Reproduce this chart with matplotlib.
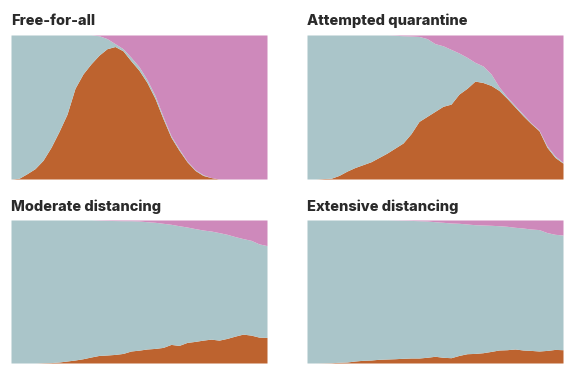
import numpy as np
import matplotlib
matplotlib.use("Agg")
import matplotlib.pyplot as plt

# time steps (simulation frames)
days = np.arange(0, 33)

titles = ["Free-for-all", "Attempted quarantine",
          "Moderate distancing", "Extensive distancing"]

# share of population sick (bottom band)
sick_free = [0, 0.005, 0.037, 0.072, 0.13, 0.22, 0.33, 0.45, 0.63, 0.73, 0.80,
             0.86, 0.905, 0.92, 0.89, 0.82, 0.755, 0.67, 0.56, 0.42, 0.29, 0.20,
             0.12, 0.06, 0.025, 0.01, 0, 0, 0, 0, 0, 0, 0]
rec_free = [0, 0, 0, 0, 0, 0, 0, 0, 0, 0, 0,
            0.005, 0.025, 0.06, 0.095, 0.155, 0.22, 0.31, 0.42, 0.565, 0.70, 0.79,
            0.875, 0.935, 0.97, 0.99, 1, 1, 1, 1, 1, 1, 1]

sick_quar = [0, 0, 0.003, 0.005, 0.025, 0.055, 0.08, 0.10, 0.12, 0.15, 0.18,
             0.215, 0.25, 0.315, 0.40, 0.435, 0.47, 0.505, 0.52, 0.59, 0.63, 0.68,
             0.67, 0.65, 0.615, 0.56, 0.50, 0.44, 0.385, 0.335, 0.22, 0.15, 0.11]
rec_quar = [0, 0, 0, 0, 0, 0, 0, 0, 0, 0, 0,
            0.002, 0.005, 0.007, 0.01, 0.025, 0.06, 0.075, 0.10, 0.125, 0.155, 0.19,
            0.215, 0.27, 0.36, 0.43, 0.49, 0.55, 0.61, 0.66, 0.77, 0.84, 0.885]

sick_mod = [0, 0, 0, 0, 0.002, 0.003, 0.007, 0.014, 0.021, 0.03, 0.042,
            0.053, 0.056, 0.06, 0.067, 0.084, 0.09, 0.098, 0.102, 0.109, 0.13, 0.123,
            0.144, 0.151, 0.16, 0.167, 0.16, 0.172, 0.188, 0.202, 0.195, 0.181, 0.179]
rec_mod = [0, 0, 0, 0, 0, 0, 0, 0, 0, 0, 0,
           0.002, 0.003, 0.004, 0.005, 0.005, 0.007, 0.012, 0.016, 0.023, 0.03, 0.04,
           0.049, 0.06, 0.07, 0.077, 0.088, 0.10, 0.116, 0.13, 0.142, 0.167, 0.179]

sick_ext = [0, 0, 0.001, 0.002, 0.005, 0.007, 0.014, 0.019, 0.021, 0.026, 0.028,
            0.03, 0.033, 0.035, 0.035, 0.04, 0.047, 0.04, 0.037, 0.053, 0.065, 0.067,
            0.072, 0.081, 0.091, 0.093, 0.098, 0.091, 0.088, 0.084, 0.088, 0.095, 0.093]
rec_ext = [0, 0, 0, 0, 0, 0, 0, 0, 0, 0, 0,
           0.001, 0.002, 0.003, 0.005, 0.007, 0.012, 0.016, 0.021, 0.023, 0.028, 0.033,
           0.035, 0.037, 0.04, 0.044, 0.051, 0.056, 0.063, 0.067, 0.088, 0.10, 0.105]

SICK = "#bd632f"
HEALTHY = "#aac5c9"
RECOVERED = "#ce89bb"

W, H = 573, 377
fig = plt.figure(figsize=(W / 100, H / 100), dpi=100)

# panel boxes in pixels: left, top, right, bottom
boxes = [(11, 35, 267, 179), (307, 35, 563, 179),
         (11, 220, 267, 363), (307, 220, 563, 363)]
title_pos = [(11, 25), (307, 25), (11, 211), (307, 211)]
series = [(sick_free, rec_free), (sick_quar, rec_quar),
          (sick_mod, rec_mod), (sick_ext, rec_ext)]

for (l, t, r, b), (tx, ty), title, (sick, rec) in zip(boxes, title_pos, titles, series):
    ax = fig.add_axes([l / W, 1 - b / H, (r - l) / W, (b - t) / H])
    sick = np.array(sick)
    top_healthy = 1 - np.array(rec)
    ax.fill_between(days, 0, sick, color=SICK, lw=0)
    ax.fill_between(days, sick, top_healthy, color=HEALTHY, lw=0)
    ax.fill_between(days, top_healthy, 1, color=RECOVERED, lw=0)
    ax.set_xlim(days[0], days[-1])
    ax.set_ylim(0, 1)
    ax.axis("off")
    fig.text(tx / W, 1 - ty / H, title, fontsize=10.5, fontweight="heavy",
             family="Inter", color="#2a2a2a", ha="left", va="baseline")

fig.savefig("out.png", dpi=100)
